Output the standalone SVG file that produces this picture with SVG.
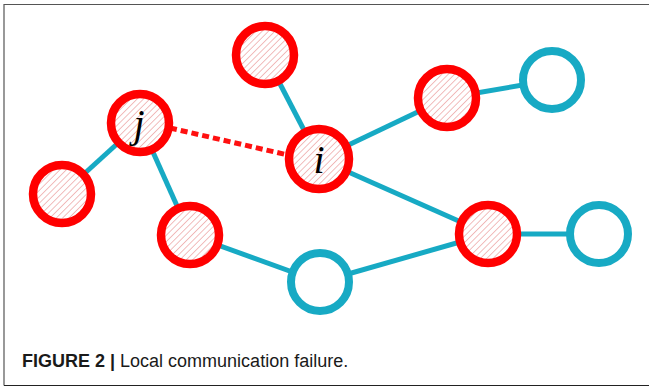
<svg xmlns="http://www.w3.org/2000/svg" width="649" height="388" viewBox="0 0 649 388">
  <defs>
    <pattern id="hatch" patternUnits="userSpaceOnUse" width="4.5" height="4.5" patternTransform="rotate(45)">
      <rect width="4.5" height="4.5" fill="#ffffff"/>
      <line x1="0" y1="0" x2="0" y2="4.5" stroke="#eb9a9a" stroke-width="1.3"/>
    </pattern>
    <style>
      .edge { stroke: #17aac4; stroke-width: 5; fill: none; }
      .fail { stroke: #ff1010; stroke-width: 5; stroke-dasharray: 7 4; fill: none; }
      .red { fill: url(#hatch); stroke: #ff0000; stroke-width: 8.5; }
      .cyan { fill: #ffffff; stroke: #17aac4; stroke-width: 8; }
      .lbl { font-family: "Liberation Serif", serif; font-style: italic; font-size: 40px; fill: #000; text-anchor: middle; }
      .cap { font-family: "Liberation Sans", Arial, sans-serif; font-size: 18px; fill: #1a1a1a; }
    </style>
  </defs>
  <rect width="649" height="388" fill="#ffffff"/>
  <!-- frame -->
  <path d="M4 385.5 V4.5 H649" fill="none" stroke="#555" stroke-width="1.2"/>
  <line x1="4" y1="385.5" x2="649" y2="385.5" stroke="#222" stroke-width="1.2"/>

  <g id="connectors">
    <line class="edge" x1="62" y1="194" x2="140" y2="123"/>
    <line class="edge" x1="140" y1="123" x2="190" y2="235"/>
    <line class="edge" x1="265" y1="55" x2="319" y2="159"/>
    <line class="edge" x1="319" y1="159" x2="447" y2="98"/>
    <line class="edge" x1="447" y1="98" x2="552" y2="80"/>
    <line class="edge" x1="319" y1="159" x2="488" y2="234"/>
    <line class="edge" x1="190" y1="235" x2="320" y2="282"/>
    <line class="edge" x1="320" y1="282" x2="488" y2="234"/>
    <line class="edge" x1="488" y1="234" x2="599" y2="234"/>
    <line class="fail" x1="170" y1="128" x2="288" y2="155"/>
  </g>

  <g id="node-top"><circle class="red" cx="265" cy="55" r="29"/></g>
  <g id="node-j"><circle class="red" cx="140" cy="123" r="29"/><text class="lbl" x="139" y="137">j</text></g>
  <g id="node-i"><circle class="red" cx="319" cy="159" r="30"/><text class="lbl" x="319" y="173">i</text></g>
  <g id="node-left"><circle class="red" cx="62" cy="194" r="29"/></g>
  <g id="node-mid"><circle class="red" cx="190" cy="235" r="29"/></g>
  <g id="node-upper-right"><circle class="red" cx="447" cy="98" r="29"/></g>
  <g id="node-lower-right"><circle class="red" cx="488" cy="234" r="29"/></g>
  <g id="node-cyan-top"><circle class="cyan" cx="552" cy="80" r="29"/></g>
  <g id="node-cyan-bottom"><circle class="cyan" cx="320" cy="282" r="29"/></g>
  <g id="node-cyan-right"><circle class="cyan" cx="599" cy="234" r="29"/></g>

  <text class="cap" x="22" y="367"><tspan font-weight="bold">FIGURE 2 |</tspan> Local communication failure.</text>
</svg>
